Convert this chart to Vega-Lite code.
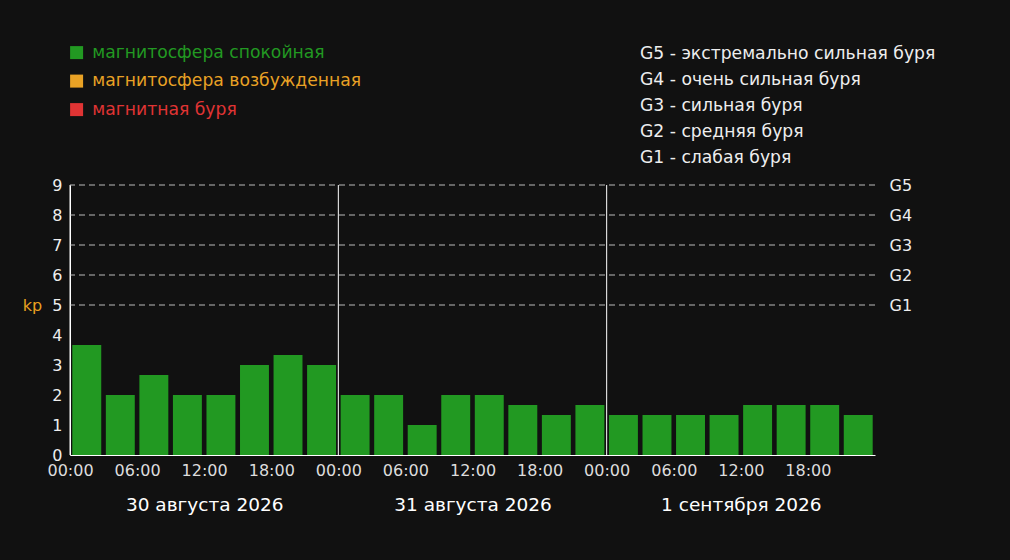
{
  "$schema": "https://vega.github.io/schema/vega-lite/v6.json",
  "width": 805,
  "height": 270,
  "autosize": {"type": "none"},
  "padding": {"left": 70, "top": 185, "right": 135, "bottom": 105},
  "background": "#111111",
  "config": {"view": {"stroke": null}, "font": "DejaVu Sans"},
  "title": {
    "text": ["G5 - экстремально сильная буря", "G4 - очень сильная буря", "G3 - сильная буря", "G2 - средняя буря", "G1 - слабая буря"],
    "anchor": "start",
    "frame": "group",
    "dx": 570,
    "dy": 144,
    "offset": 22,
    "fontSize": 17.2,
    "fontWeight": "normal",
    "font": "DejaVu Sans",
    "color": "#eeeeee",
    "lineHeight": 26
  },
  "datasets": {
    "kp": [
      {"start": 0, "end": 3, "kp": 3.67, "status": "магнитосфера спокойная"},
      {"start": 3, "end": 6, "kp": 2, "status": "магнитосфера спокойная"},
      {"start": 6, "end": 9, "kp": 2.67, "status": "магнитосфера спокойная"},
      {"start": 9, "end": 12, "kp": 2, "status": "магнитосфера спокойная"},
      {"start": 12, "end": 15, "kp": 2, "status": "магнитосфера спокойная"},
      {"start": 15, "end": 18, "kp": 3, "status": "магнитосфера спокойная"},
      {"start": 18, "end": 21, "kp": 3.33, "status": "магнитосфера спокойная"},
      {"start": 21, "end": 24, "kp": 3, "status": "магнитосфера спокойная"},
      {"start": 24, "end": 27, "kp": 2, "status": "магнитосфера спокойная"},
      {"start": 27, "end": 30, "kp": 2, "status": "магнитосфера спокойная"},
      {"start": 30, "end": 33, "kp": 1, "status": "магнитосфера спокойная"},
      {"start": 33, "end": 36, "kp": 2, "status": "магнитосфера спокойная"},
      {"start": 36, "end": 39, "kp": 2, "status": "магнитосфера спокойная"},
      {"start": 39, "end": 42, "kp": 1.67, "status": "магнитосфера спокойная"},
      {"start": 42, "end": 45, "kp": 1.33, "status": "магнитосфера спокойная"},
      {"start": 45, "end": 48, "kp": 1.67, "status": "магнитосфера спокойная"},
      {"start": 48, "end": 51, "kp": 1.33, "status": "магнитосфера спокойная"},
      {"start": 51, "end": 54, "kp": 1.33, "status": "магнитосфера спокойная"},
      {"start": 54, "end": 57, "kp": 1.33, "status": "магнитосфера спокойная"},
      {"start": 57, "end": 60, "kp": 1.33, "status": "магнитосфера спокойная"},
      {"start": 60, "end": 63, "kp": 1.67, "status": "магнитосфера спокойная"},
      {"start": 63, "end": 66, "kp": 1.67, "status": "магнитосфера спокойная"},
      {"start": 66, "end": 69, "kp": 1.67, "status": "магнитосфера спокойная"},
      {"start": 69, "end": 72, "kp": 1.33, "status": "магнитосфера спокойная"}
    ],
    "days": [
      {"start": 0, "day": "30 августа 2026"},
      {"start": 24, "day": "31 августа 2026"},
      {"start": 48, "day": "1 сентября 2026"}
    ],
    "levels": [
      {"kp": 5, "g": "G1"},
      {"kp": 6, "g": "G2"},
      {"kp": 7, "g": "G3"},
      {"kp": 8, "g": "G4"},
      {"kp": 9, "g": "G5"}
    ]
  },
  "layer": [
    {
      "data": {"name": "levels"},
      "mark": {"type": "rule", "color": "#bbbbbb", "strokeWidth": 1, "strokeDash": [6, 4]},
      "encoding": {
        "y": {
          "field": "kp",
          "type": "quantitative",
          "scale": {"domain": [0, 9], "nice": false, "padding": 0},
          "axis": {
            "orient": "right",
            "values": [5, 6, 7, 8, 9],
            "labelExpr": "'G' + (datum.value - 4)",
            "domain": false,
            "ticks": false,
            "tickSize": 0,
            "grid": false,
            "labelPadding": 14,
            "labelFontSize": 16,
            "labelColor": "#eeeeee",
            "labelFont": "DejaVu Sans",
            "labelFlush": false,
            "title": null
          }
        }
      }
    },
    {
      "data": {"name": "kp"},
      "mark": {"type": "bar", "xOffset": 2.3, "x2Offset": -2.3, "cornerRadius": 0},
      "encoding": {
        "x": {
          "field": "start",
          "type": "quantitative",
          "scale": {"domain": [0, 72], "nice": false, "zero": false, "padding": 0},
          "axis": {
            "orient": "bottom",
            "values": [0, 6, 12, 18, 24, 30, 36, 42, 48, 54, 60, 66],
            "labelExpr": "(datum.value % 24 < 10 ? '0' : '') + (datum.value % 24) + ':00'",
            "grid": false,
            "ticks": false,
            "tickSize": 0,
            "domainColor": "#ffffff",
            "domainWidth": 1,
            "labelPadding": 7,
            "labelFontSize": 16,
            "labelColor": "#dddddd",
            "labelFont": "DejaVu Sans",
            "labelOverlap": false,
            "labelFlush": false,
            "title": null
          }
        },
        "x2": {"field": "end"},
        "y": {
          "field": "kp",
          "type": "quantitative",
          "scale": {"domain": [0, 9], "nice": false, "padding": 0},
          "axis": {
            "orient": "left",
            "values": [0, 1, 2, 3, 4, 5, 6, 7, 8, 9],
            "grid": false,
            "ticks": false,
            "tickSize": 0,
            "domainColor": "#ffffff",
            "domainWidth": 1,
            "labelPadding": 8,
            "labelFontSize": 16,
            "labelColor": "#eeeeee",
            "labelFont": "DejaVu Sans",
            "labelFlush": false,
            "title": "kp",
            "titleAngle": 0,
            "titleX": -38,
            "titleY": 120,
            "titleAlign": "center",
            "titleBaseline": "middle",
            "titleColor": "#e8a020",
            "titleFontSize": 16,
            "titleFontWeight": "normal",
            "titleFont": "DejaVu Sans"
          }
        },
        "y2": {"datum": 0},
        "color": {
          "field": "status",
          "type": "nominal",
          "scale": {
            "domain": ["магнитосфера спокойная", "магнитосфера возбужденная", "магнитная буря"],
            "range": ["#229922", "#e9a225", "#e03434"]
          },
          "legend": {
            "orient": "none",
            "legendX": -2,
            "legendY": -141,
            "direction": "vertical",
            "title": null,
            "padding": 0,
            "symbolType": "square",
            "symbolSize": 169,
            "symbolStrokeWidth": 0,
            "symbolOpacity": 1,
            "labelFontSize": 17.2,
            "labelFont": "DejaVu Sans",
            "labelOffset": 7,
            "labelLimit": 600,
            "rowPadding": 10.5,
            "encode": {"labels": {"update": {"fill": {"scale": "color", "field": "value"}}}}
          }
        }
      }
    },
    {
      "data": {"name": "days"},
      "mark": {"type": "rule", "color": "#ffffff", "strokeWidth": 1},
      "encoding": {
        "x": {
          "field": "start",
          "type": "quantitative",
          "scale": {"domain": [0, 72], "nice": false, "zero": false, "padding": 0},
          "axis": {
            "orient": "bottom",
            "values": [12, 36, 60],
            "labelExpr": "datum.value == 12 ? '30 августа 2026' : datum.value == 36 ? '31 августа 2026' : '1 сентября 2026'",
            "domain": false,
            "ticks": false,
            "tickSize": 0,
            "grid": false,
            "offset": 34,
            "labelPadding": 6,
            "labelFontSize": 18.5,
            "labelColor": "#ffffff",
            "labelFont": "DejaVu Sans",
            "labelFlush": false,
            "title": null
          }
        }
      }
    }
  ],
  "resolve": {"axis": {"x": "independent", "y": "independent"}}
}
